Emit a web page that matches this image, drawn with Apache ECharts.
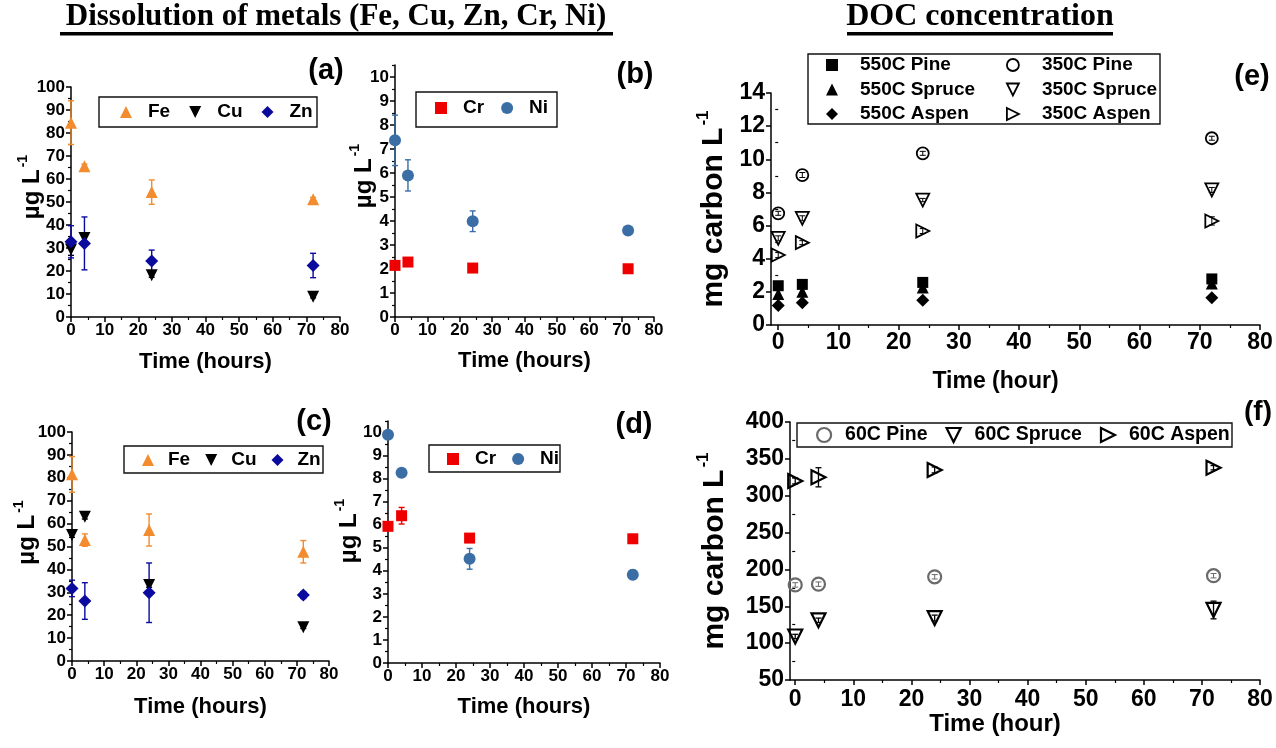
<!DOCTYPE html>
<html>
<head>
<meta charset="utf-8">
<script src="https://cdn.jsdelivr.net/npm/echarts@6/dist/echarts.min.js"></script>
<style>
  html, body { margin: 0; padding: 0; background: #ffffff; }
  #chart { width: 1276px; height: 748px; }
</style>
</head>
<body>
<div id="chart"></div>
<script>
// Sampling times (hours)
const hours = [0, 4, 24, 72];

// (a) metal dissolution, first set (µg/L, mean and ± error)
const feA = [84.5, 65.5, 54.3, 51.2];
const feAErr = [9.5, 1.0, 5.3, 0.8];
const cuA = [29.3, 34.3, 18.1, 8.8];
const cuAErr = [2.5, 1.5, 0.8, 0.5];
const znA = [32.7, 32.0, 24.3, 22.4];
const znAErr = [7.0, 11.5, 4.8, 5.3];

// (b) Cr and Ni, first set
const crB = [2.15, 2.29, 2.04, 2.01];
const crBErr = [0.05, 0.06, 0.05, 0.05];
const niB = [7.36, 5.90, 3.99, 3.60];
const niBErr = [1.05, 0.65, 0.43, 0.17];

// (c) metal dissolution, second set
const feC = [81.5, 52.8, 57.2, 47.7];
const feCErr = [7.8, 2.7, 7.0, 4.9];
const cuC = [55.0, 63.0, 33.2, 14.7];
const cuCErr = [1.0, 1.0, 1.0, 0.5];
const znC = [31.7, 26.2, 29.8, 28.8];
const znCErr = [3.6, 8.0, 13.0, 1.5];

// (d) Cr and Ni, second set
const crD = [5.93, 6.39, 5.42, 5.39];
const crDErr = [0.10, 0.36, 0.08, 0.08];
const niD = [9.90, 8.25, 4.52, 3.83];
const niDErr = [0.10, 0.15, 0.45, 0.20];

// (e) DOC from biochars (mg carbon/L)
const pine550 = [2.37, 2.45, 2.57, 2.78];
const spruce550 = [1.87, 2.00, 2.27, 2.50];
const aspen550 = [1.17, 1.35, 1.50, 1.65];
const pine350 = [6.74, 9.05, 10.36, 11.27];
const pine350Err = [0.12, 0.15, 0.12, 0.12];
const spruce350 = [5.23, 6.44, 7.54, 8.15];
const spruce350Err = [0.15, 0.15, 0.10, 0.15];
const aspen350 = [4.22, 4.97, 5.67, 6.28];
const aspen350Err = [0.15, 0.12, 0.15, 0.25];

// (f) DOC from 60C wood (mg carbon/L)
const pine60 = [179, 180, 190, 191.5];
const pine60Err = [3, 3, 3, 3];
const spruce60 = [109, 131, 134, 145];
const spruce60Err = [3, 3, 4, 12];
const aspen60 = [320, 325, 335, 338];
const aspen60Err = [4, 13, 4, 3];

// Tick values
const timeMajors = [0, 10, 20, 30, 40, 50, 60, 70, 80];
const timeMinors = [5, 15, 25, 35, 45, 55, 65, 75];
const metalMajors = [0, 10, 20, 30, 40, 50, 60, 70, 80, 90, 100];
const metalMinors = [5, 15, 25, 35, 45, 55, 65, 75, 85, 95];
const smallMajors = [0, 1, 2, 3, 4, 5, 6, 7, 8, 9, 10];
const smallMinors = [0.5, 1.5, 2.5, 3.5, 4.5, 5.5, 6.5, 7.5, 8.5, 9.5, 10.5];
const docMajors = [0, 2, 4, 6, 8, 10, 12, 14];
const docMinors = [1, 3, 5, 7, 9, 11, 13];
const leachMajors = [50, 100, 150, 200, 250, 300, 350, 400];
const leachMinors = [75, 125, 175, 225, 275, 325, 375];

const FONT = '"Liberation Sans", Arial, sans-serif';
const SERIF = '"Liberation Serif", "Times New Roman", serif';
const BLACK = '#000000';
const ORANGE = '#F28C2E';
const NAVY = '#0A0A9E';
const RED = '#EE0000';
const STEEL = '#3A6EA5';
const GREY = '#6A6A6A';

// Marker outlines that need no rotation (so legend icons match)
const DOWN_TRI = 'path://M0,0L10,0L5,10Z';
const RIGHT_TRI = 'path://M0,0L10,5L0,10Z';

function nameStyle(size, supSize, shift) {
  return {
    fontFamily: FONT, fontWeight: 'bold', fontSize: size, color: BLACK,
    padding: [0, 0, 0, shift || 0],
    rich: {
      m: { fontFamily: FONT, fontWeight: 'bold', fontSize: size, color: BLACK, lineHeight: Math.round(size * 1.3) },
      s: { fontFamily: FONT, fontWeight: 'bold', fontSize: supSize, color: BLACK, verticalAlign: 'top', lineHeight: supSize + 1, padding: [0, 0, 0, 2] }
    }
  };
}

// A value axis drawn as a main axis (line, major ticks, labels, name)
// plus an overlay that only carries the shorter minor ticks.
function axisPair(dim, gridIndex, o) {
  const common = {
    type: 'value', gridIndex: gridIndex, min: o.min, max: o.max,
    position: dim === 'x' ? 'bottom' : 'left',
    splitLine: { show: false }
  };
  const main = Object.assign({}, common, {
    axisLine: { show: true, onZero: false, lineStyle: { color: BLACK, width: 1.5 } },
    axisTick: { show: true, inside: false, length: 5, lineStyle: { color: BLACK, width: 1.5 }, customValues: o.majors },
    axisLabel: { show: true, customValues: o.majors, margin: o.margin, fontFamily: FONT, fontWeight: 'bold', fontSize: o.fs, color: BLACK },
    name: o.name, nameLocation: 'middle', nameGap: o.gap, nameMoveOverlap: false,
    nameTextStyle: o.nameStyle
  });
  const minor = Object.assign({}, common, {
    axisLine: { show: false },
    axisLabel: { show: false },
    axisTick: { show: true, inside: false, length: 3, lineStyle: { color: BLACK, width: 1.2 }, customValues: o.minors }
  });
  return [main, minor];
}

const timeName = (size, padRight) => ({ fontFamily: FONT, fontWeight: 'bold', fontSize: size, color: BLACK, padding: [0, padRight || 0, 0, 0] });

const panels = [
  { // (a)
    grid: { left: 71, top: 87, width: 269, height: 230 },
    x: { min: 0, max: 80, majors: timeMajors, minors: timeMinors, fs: 17, margin: 5, name: 'Time (hours)', gap: 34, nameStyle: timeName(22) },
    y: { min: 0, max: 100, majors: metalMajors, minors: metalMinors, fs: 17, margin: 6, name: '{m|µg L}{s|-1}', gap: 23.5, nameStyle: nameStyle(24, 14, 30) }
  },
  { // (b)
    grid: { left: 395, top: 65, width: 259, height: 252 },
    x: { min: 0, max: 80, majors: timeMajors, minors: timeMinors, fs: 17, margin: 5, name: 'Time (hours)', gap: 33, nameStyle: timeName(22) },
    y: { min: 0, max: 10.5, majors: smallMajors, minors: smallMinors, fs: 17, margin: 6, name: '{m|µg L}{s|-1}', gap: 15.5, nameStyle: nameStyle(24, 14, 30) }
  },
  { // (c)
    grid: { left: 72, top: 432, width: 257, height: 229 },
    x: { min: 0, max: 80, majors: timeMajors, minors: timeMinors, fs: 17, margin: 5, name: 'Time (hours)', gap: 35, nameStyle: timeName(22) },
    y: { min: 0, max: 100, majors: metalMajors, minors: metalMinors, fs: 17, margin: 6, name: '{m|µg L}{s|-1}', gap: 29, nameStyle: nameStyle(24, 14, 28) }
  },
  { // (d)
    grid: { left: 388, top: 421, width: 272, height: 242 },
    x: { min: 0, max: 80, majors: timeMajors, minors: timeMinors, fs: 17, margin: 5, name: 'Time (hours)', gap: 33, nameStyle: timeName(22) },
    y: { min: 0, max: 10.5, majors: smallMajors, minors: smallMinors, fs: 17, margin: 6, name: '{m|µg L}{s|-1}', gap: 23.5, nameStyle: nameStyle(24, 14, 22) }
  },
  { // (e)
    grid: { left: 771, top: 93, width: 489, height: 232 },
    x: { min: -1.2, max: 80, majors: timeMajors, minors: timeMinors, fs: 23, margin: 6, name: 'Time (hour)', gap: 45, nameStyle: timeName(23, 40) },
    y: { min: 0, max: 14, majors: docMajors, minors: docMinors, fs: 23, margin: 6, name: '{m|mg carbon L}{s|-1}', gap: 37.5, nameStyle: nameStyle(30, 17, 0) }
  },
  { // (f)
    grid: { left: 790, top: 422, width: 470, height: 258 },
    x: { min: -0.9, max: 80, majors: timeMajors, minors: timeMinors, fs: 23, margin: 8, name: 'Time (hour)', gap: 32, nameStyle: timeName(24, 60) },
    y: { min: 50, max: 400, majors: leachMajors, minors: leachMinors, fs: 23, margin: 6, name: '{m|mg carbon L}{s|-1}', gap: 56, nameStyle: nameStyle(30, 17, 0) }
  }
];

const grids = [], xAxes = [], yAxes = [];
panels.forEach((p, g) => {
  grids.push(Object.assign({ containLabel: false }, p.grid));
  xAxes.push(...axisPair('x', g, p.x));
  yAxes.push(...axisPair('y', g, p.y));
});

function pts(vals) { return hours.map((h, i) => [h, vals[i]]); }

function scatter(panel, name, vals, sym) {
  const open = !!sym.open;
  return {
    type: 'scatter', name: name,
    xAxisIndex: panel * 2, yAxisIndex: panel * 2,
    data: pts(vals),
    symbol: sym.symbol, symbolSize: sym.size,
    itemStyle: open
      ? { color: 'rgba(255,255,255,0)', borderColor: sym.color, borderWidth: sym.bw || 2, opacity: 1 }
      : { color: sym.color, borderWidth: 0, opacity: 1 },
    z: 4, emphasis: { disabled: true }
  };
}

function errorBars(panel, vals, errs, color, lw) {
  return {
    type: 'custom',
    xAxisIndex: panel * 2, yAxisIndex: panel * 2,
    silent: true, z: 3,
    encode: { x: 0, y: [1, 2] },
    data: hours.map((h, i) => [h, vals[i] - errs[i], vals[i] + errs[i]]),
    renderItem: function (params, api) {
      const x = api.value(0);
      const lo = api.coord([x, api.value(1)]);
      const hi = api.coord([x, api.value(2)]);
      const cw = 3;
      const st = { stroke: color, lineWidth: lw || 1.4 };
      return {
        type: 'group',
        children: [
          { type: 'line', shape: { x1: lo[0], y1: lo[1], x2: hi[0], y2: hi[1] }, style: st },
          { type: 'line', shape: { x1: lo[0] - cw, y1: lo[1], x2: lo[0] + cw, y2: lo[1] }, style: st },
          { type: 'line', shape: { x1: hi[0] - cw, y1: hi[1], x2: hi[0] + cw, y2: hi[1] }, style: st }
        ]
      };
    }
  };
}

const SYM = {
  fe: { symbol: 'triangle', size: 12, color: ORANGE },
  cu: { symbol: DOWN_TRI, size: 12, color: BLACK },
  zn: { symbol: 'diamond', size: 13, color: NAVY },
  cr: { symbol: 'rect', size: 11, color: RED },
  ni: { symbol: 'circle', size: 12, color: STEEL },
  sq550: { symbol: 'rect', size: 11, color: BLACK },
  tri550: { symbol: 'triangle', size: 12, color: BLACK },
  dia550: { symbol: 'diamond', size: 13, color: BLACK },
  circ350: { symbol: 'circle', size: 12, color: BLACK, open: true, bw: 1.8 },
  down350: { symbol: DOWN_TRI, size: 13, color: BLACK, open: true, bw: 1.8 },
  right350: { symbol: RIGHT_TRI, size: 13, color: BLACK, open: true, bw: 1.8 },
  circ60: { symbol: 'circle', size: 13, color: GREY, open: true, bw: 2.2 },
  down60: { symbol: DOWN_TRI, size: 14, color: BLACK, open: true, bw: 2.2 },
  right60: { symbol: RIGHT_TRI, size: 14, color: BLACK, open: true, bw: 2.2 }
};

const series = [
  // (a)
  errorBars(0, feA, feAErr, ORANGE), errorBars(0, cuA, cuAErr, BLACK), errorBars(0, znA, znAErr, NAVY),
  scatter(0, 'Fe', feA, SYM.fe), scatter(0, 'Cu', cuA, SYM.cu), scatter(0, 'Zn', znA, SYM.zn),
  // (b)
  errorBars(1, crB, crBErr, RED), errorBars(1, niB, niBErr, STEEL),
  scatter(1, 'Cr', crB, SYM.cr), scatter(1, 'Ni', niB, SYM.ni),
  // (c)
  errorBars(2, feC, feCErr, ORANGE), errorBars(2, cuC, cuCErr, BLACK), errorBars(2, znC, znCErr, NAVY),
  scatter(2, 'Fe', feC, SYM.fe), scatter(2, 'Cu', cuC, SYM.cu), scatter(2, 'Zn', znC, SYM.zn),
  // (d)
  errorBars(3, crD, crDErr, RED), errorBars(3, niD, niDErr, STEEL),
  scatter(3, 'Cr', crD, SYM.cr), scatter(3, 'Ni', niD, SYM.ni),
  // (e)
  errorBars(4, pine350, pine350Err, BLACK, 1), errorBars(4, spruce350, spruce350Err, BLACK, 1), errorBars(4, aspen350, aspen350Err, BLACK, 1),
  scatter(4, '550C Pine', pine550, SYM.sq550), scatter(4, '550C Spruce', spruce550, SYM.tri550), scatter(4, '550C Aspen', aspen550, SYM.dia550),
  scatter(4, '350C Pine', pine350, SYM.circ350), scatter(4, '350C Spruce', spruce350, SYM.down350), scatter(4, '350C Aspen', aspen350, SYM.right350),
  // (f)
  errorBars(5, pine60, pine60Err, GREY, 1), errorBars(5, spruce60, spruce60Err, BLACK, 1.3), errorBars(5, aspen60, aspen60Err, BLACK, 1.3),
  scatter(5, '60C Pine', pine60, SYM.circ60), scatter(5, '60C Spruce', spruce60, SYM.down60), scatter(5, '60C Aspen', aspen60, SYM.right60)
];

// Legend blocks: square icon box, text pushed right by a left padding
function legendBlock(names, left, top, opts) {
  const o = Object.assign({ icon: 12, textPad: 11, gap: 19, fs: 19, orient: 'horizontal' }, opts || {});
  return {
    data: names, left: left, top: top, orient: o.orient, padding: 0,
    itemWidth: o.icon, itemHeight: o.icon, itemGap: o.gap, selectedMode: false,
    itemStyle: { borderWidth: 'inherit' },
    textStyle: { fontFamily: FONT, fontWeight: 'bold', fontSize: o.fs, color: BLACK, lineHeight: 20, padding: [0, 0, 0, o.textPad] }
  };
}

const legends = [
  legendBlock(['Fe', 'Cu', 'Zn'], 120, 102),
  legendBlock(['Cr', 'Ni'], 435, 98, { gap: 17 }),
  legendBlock(['Fe', 'Cu', 'Zn'], 142, 450, { textPad: 9, gap: 15 }),
  legendBlock(['Cr', 'Ni'], 447, 449, { gap: 16 }),
  legendBlock(['550C Pine', '550C Spruce', '550C Aspen'], 826, 55, { orient: 'vertical', textPad: 17, gap: 4.5 }),
  legendBlock(['350C Pine', '350C Spruce', '350C Aspen'], 1006, 55, { orient: 'vertical', textPad: 18, gap: 4.5 }),
  legendBlock(['60C Pine', '60C Spruce', '60C Aspen'], 816, 425, { icon: 14, textPad: 9, gap: 18, fs: 19.5 })
];

function boxRect(x, y, w, h) {
  return { type: 'rect', shape: { x: x, y: y, width: w, height: h }, style: { fill: 'none', stroke: '#111111', lineWidth: 1.4 }, z: 1, silent: true };
}
function panelTag(text, x, y, size) {
  return { type: 'text', x: x, y: y, silent: true, z: 10,
    style: { text: text, fill: BLACK, font: 'bold ' + size + 'px ' + FONT, textAlign: 'center', textVerticalAlign: 'middle', align: 'center', verticalAlign: 'middle' } };
}
function heading(text, cx, y, size) {
  return { type: 'text', x: cx, y: y, silent: true, z: 10,
    style: { text: text, fill: BLACK, font: 'bold ' + size + 'px ' + SERIF, textAlign: 'center', textVerticalAlign: 'middle', align: 'center', verticalAlign: 'middle' } };
}
function underline(x, y, w) {
  return { type: 'rect', shape: { x: x, y: y, width: w, height: 3.5 }, style: { fill: BLACK }, silent: true, z: 10 };
}

const graphics = [
  heading('Dissolution of metals (Fe, Cu, Zn, Cr, Ni)', 336, 17, 31),
  underline(60, 32, 553),
  heading('DOC concentration', 980, 17, 32),
  underline(847, 32, 266),
  boxRect(99, 97, 218, 30),
  boxRect(416, 92, 141, 35),
  boxRect(124, 446, 199, 27),
  boxRect(429, 445, 131, 27),
  boxRect(808, 54, 352, 70),
  boxRect(797, 423, 435, 24),
  panelTag('(a)', 326, 71, 29),
  panelTag('(b)', 635, 75, 29),
  panelTag('(c)', 314, 422, 29),
  panelTag('(d)', 634, 425, 29),
  panelTag('(e)', 1252, 77, 29),
  panelTag('(f)', 1258, 412, 28)
];

const chart = echarts.init(document.getElementById('chart'), null, { renderer: 'canvas' });
chart.setOption({
  backgroundColor: '#ffffff',
  animation: false,
  grid: grids,
  xAxis: xAxes,
  yAxis: yAxes,
  legend: legends,
  series: series,
  graphic: { elements: graphics }
});
</script>
</body>
</html>
